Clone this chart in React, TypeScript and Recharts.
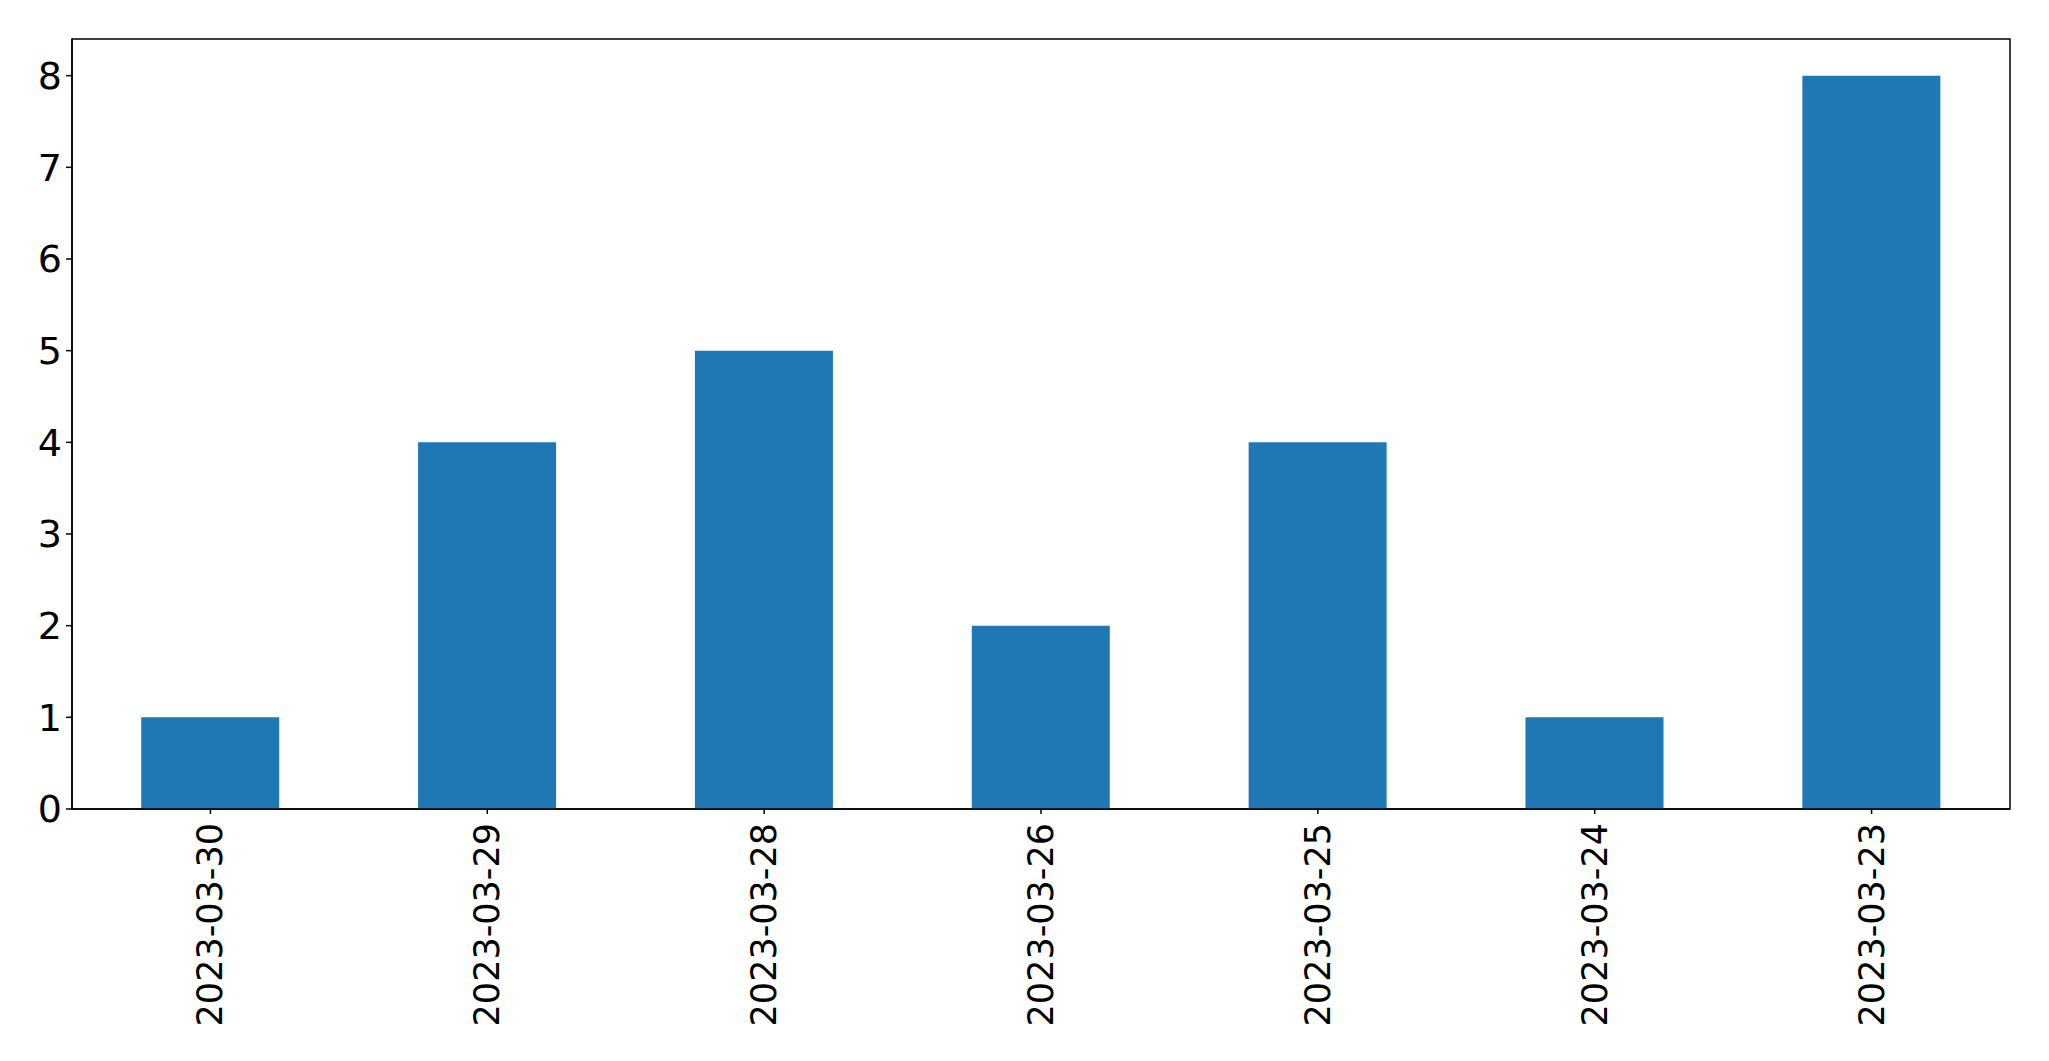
import { BarChart, Bar, XAxis, YAxis, ReferenceArea } from 'recharts';

const dates = ['2023-03-30', '2023-03-29', '2023-03-28', '2023-03-26', '2023-03-25', '2023-03-24', '2023-03-23'];
const counts = [1, 4, 5, 2, 4, 1, 8];
const yTicks = [0, 1, 2, 3, 4, 5, 6, 7, 8];

const data = dates.map((d, i) => ({ date: d, count: counts[i] }));

const FONT = 'DejaVu Sans';

function DateTick(props: any) {
  const { x, y, payload } = props;
  return (
    <text
      x={0}
      y={0}
      transform={`translate(${x},${y + 7}) rotate(-90)`}
      textAnchor="end"
      dominantBaseline="central"
      fontFamily={FONT}
      fontSize={35}
      fill="#000"
    >
      {payload.value}
    </text>
  );
}

export default function App() {
  return (
    <div style={{ position: 'absolute', left: 0, top: 0, background: '#fff' }}>
      <BarChart
        width={2049}
        height={1061}
        data={data}
        margin={{ top: 39, right: 39, bottom: 0, left: 0 }}
        barCategoryGap="25%"
      >
        <XAxis
          dataKey="date"
          height={252}
          interval={0}
          tick={<DateTick />}
          tickSize={5}
          axisLine={{ stroke: '#000', strokeWidth: 1.5 }}
          tickLine={{ stroke: '#000', strokeWidth: 1.5 }}
        />
        <YAxis
          domain={[0, 8.4]}
          ticks={yTicks}
          width={72}
          tickSize={6}
          tickMargin={4}
          allowDataOverflow
          tick={{ fontFamily: FONT, fontSize: 38, fill: '#000' }}
          axisLine={{ stroke: '#000', strokeWidth: 1.5 }}
          tickLine={{ stroke: '#000', strokeWidth: 1.5 }}
        />
        <Bar dataKey="count" fill="#1f77b4" isAnimationActive={false} />
        <ReferenceArea
          y1={0}
          y2={8.4}
          fill="none"
          fillOpacity={0}
          stroke="#000"
          strokeWidth={1.5}
          ifOverflow="visible"
        />
      </BarChart>
    </div>
  );
}
